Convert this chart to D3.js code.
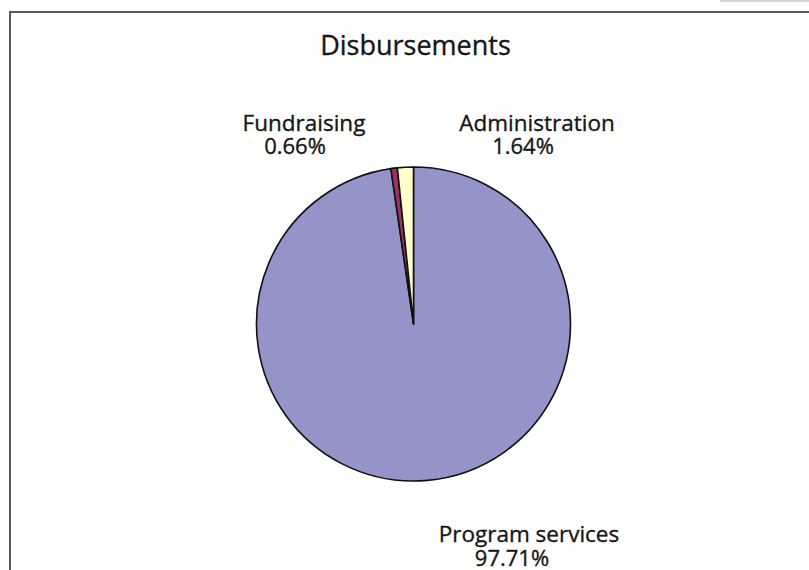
<!DOCTYPE html>
<html>
<head>
<meta charset="utf-8">
<script src="https://cdn.jsdelivr.net/npm/d3@7"></script>
<style>
  html, body { margin: 0; padding: 0; background: #fff; }
  svg { display: block; }
  text { font-family: "Open Sans", "DejaVu Sans", sans-serif; fill: #161616; stroke: #161616; stroke-width: 0.35; }
</style>
</head>
<body>
<svg id="chart" width="809" height="570"></svg>
<script>
const categories = ["Program services", "Fundraising", "Administration"];
const values = [97.71, 0.66, 1.64];
const valueLabels = ["97.71%", "0.66%", "1.64%"];
const colors = ["#9494c9", "#993366", "#ffffcc"];
const title = "Disbursements";

const svg = d3.select("#chart");

// frame
svg.append("rect").attr("x", 10).attr("y", 12).attr("width", 900).attr("height", 700)
  .attr("fill", "none").attr("stroke", "#5a5a5a").attr("stroke-width", 2);
svg.append("line").attr("x1", 720).attr("x2", 809).attr("y1", 1).attr("y2", 1)
  .attr("stroke", "#c8c8c8").attr("stroke-width", 1.5);

svg.append("text").attr("x", 415.5).attr("y", 55).attr("text-anchor", "middle")
  .attr("font-size", 27).text(title);

const cx = 413.5, cy = 324, r = 157;
const pie = d3.pie().sort(null).value(d => d)(values);
const arc = d3.arc().innerRadius(0).outerRadius(r);
const g = svg.append("g").attr("transform", `translate(${cx},${cy})`);
g.selectAll("path").data(pie).join("path")
  .attr("d", arc)
  .attr("fill", (d, i) => colors[i])
  .attr("stroke", "#111").attr("stroke-width", 1.6).attr("stroke-linejoin", "round");

// label layout (name position, value position)
const labelPos = [
  { nx: 529, ny: 542, vx: 512, vy: 566 },
  { nx: 304, ny: 131, vx: 295, vy: 154 },
  { nx: 537, ny: 131, vx: 523, vy: 154 }
];
categories.forEach((c, i) => {
  const p = labelPos[i];
  svg.append("text").attr("x", p.nx).attr("y", p.ny).attr("text-anchor", "middle")
    .attr("font-size", 22.5).text(c);
  svg.append("text").attr("x", p.vx).attr("y", p.vy).attr("text-anchor", "middle")
    .attr("font-size", 22).text(valueLabels[i]);
});
</script>
</body>
</html>
